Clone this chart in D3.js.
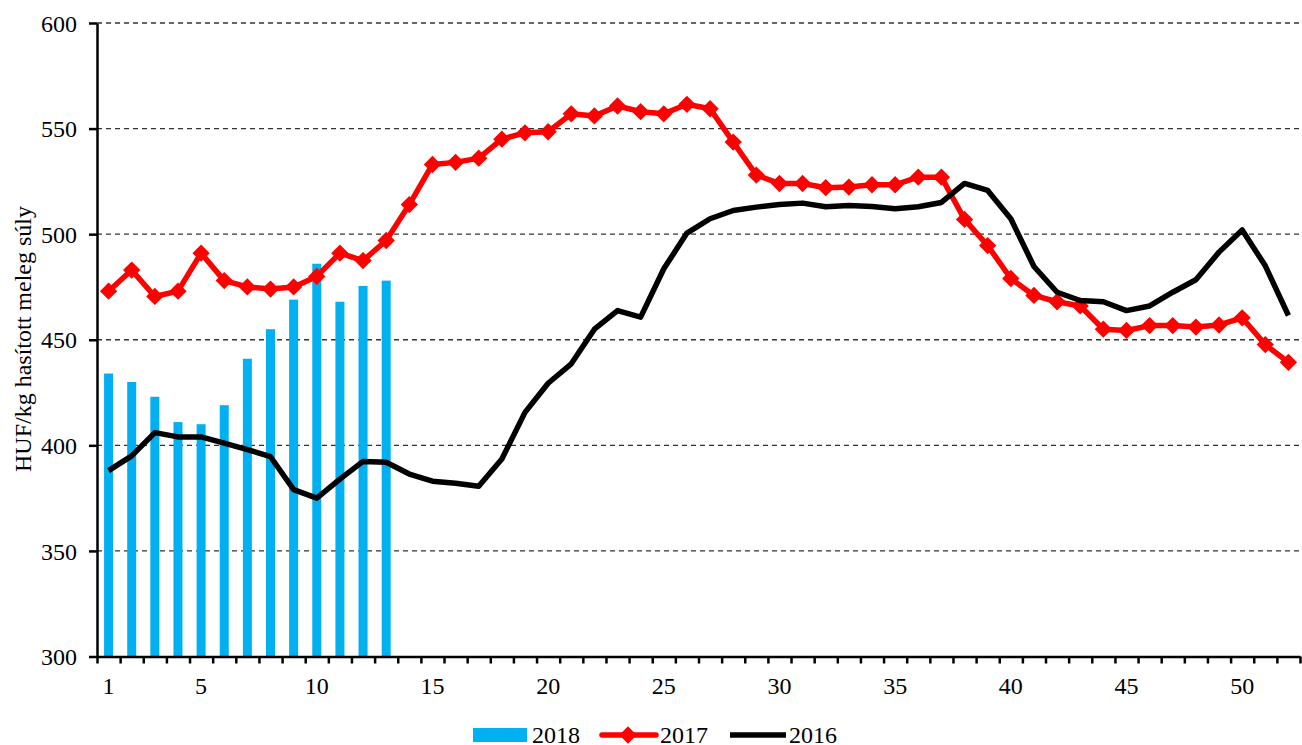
<!DOCTYPE html>
<html>
<head>
<meta charset="utf-8">
<script src="https://cdn.jsdelivr.net/npm/d3@7"></script>
<style>
  body { margin: 0; background: #fff; }
  svg { display: block; }
  svg text { font-family: "Liberation Serif", "Times New Roman", serif; fill: #000; }
</style>
</head>
<body>
<svg id="chart" width="1302" height="745"></svg>
<script>
// weeks 1..52
const weeks = d3.range(1, 53);

// 2018 (bars, weeks 1-13)
const values2018 = [434, 430, 423, 411, 410, 419, 441, 455, 469, 486, 468, 475.5, 478];

// 2017 (red line with diamonds)
const values2017 = [
  473, 483, 470.5, 473, 491, 478, 475, 474, 475, 480,
  491, 487.5, 497, 514, 533, 534, 536, 545, 548, 548.5,
  557, 556, 560.7, 558, 557, 561.5, 559.4, 543.6, 528, 524,
  524, 522, 522.3, 523.4, 523.4, 527, 527, 507, 494.6, 479,
  471, 468, 466, 455, 454.4, 456.7, 456.7, 456, 457, 460.4,
  447.7, 439.3
];

// 2016 (black line)
const values2016 = [
  388, 395, 406, 404, 404, 401, 398, 394.6, 379, 375,
  384, 392.4, 392, 386.4, 383, 382, 380.6, 393.5, 415.6, 429.4,
  438.6, 455, 463.8, 460.7, 483.6, 500.5, 507.3, 511.2, 512.8, 514,
  514.7, 513, 513.6, 513.1, 512, 513, 515, 524, 520.7, 507.3,
  484.7, 472.5, 468.6, 468, 463.8, 466, 472.5, 478.4, 491.5, 502,
  485, 461.5
];

const xTickLabels = [1, 5, 10, 15, 20, 25, 30, 35, 40, 45, 50];
const yTicks = [300, 350, 400, 450, 500, 550, 600];

const margin = { top: 23, right: 2, bottom: 88.5, left: 97 };
const width = 1302, height = 745;
const innerWidth = width - margin.left - margin.right;
const innerHeight = height - margin.top - margin.bottom;
const fontSize = 24;

const svg = d3.select("#chart");
const g = svg.append("g").attr("transform", `translate(${margin.left},${margin.top})`);

const x = d3.scaleBand().domain(weeks).range([0, innerWidth]).padding(0);
const xEdge = d3.scaleLinear().domain([0, 52]).range([0, innerWidth]);
const y = d3.scaleLinear().domain([300, 600]).range([innerHeight, 0]);
const cx = d => x(d) + x.bandwidth() / 2;

// gridlines
g.append("g")
  .selectAll("line")
  .data(yTicks.filter(t => t > 300))
  .join("line")
  .attr("x1", 0)
  .attr("x2", innerWidth)
  .attr("y1", d => y(d))
  .attr("y2", d => y(d))
  .attr("stroke", "#333")
  .attr("stroke-width", 1.3)
  .attr("stroke-dasharray", "5,4");

// bars 2018
const barW = 9;
g.append("g")
  .selectAll("rect")
  .data(values2018)
  .join("rect")
  .attr("x", (d, i) => cx(weeks[i]) - barW / 2)
  .attr("y", d => y(d))
  .attr("width", barW)
  .attr("height", d => innerHeight - y(d))
  .attr("fill", "#00b0f0");

// 2017 line
const line = d3.line().x((d, i) => cx(weeks[i])).y(d => y(d));
g.append("path")
  .datum(values2017)
  .attr("fill", "none")
  .attr("stroke", "#ff0000")
  .attr("stroke-width", 5.5)
  .attr("stroke-linejoin", "round")
  .attr("d", line);

const diamond = d3.symbol().type(d3.symbolSquare).size(150);
g.append("g")
  .selectAll("path")
  .data(values2017)
  .join("path")
  .attr("transform", (d, i) => `translate(${cx(weeks[i])},${y(d)}) rotate(45)`)
  .attr("d", diamond)
  .attr("fill", "#ff0000");

// 2016 line
g.append("path")
  .datum(values2016)
  .attr("fill", "none")
  .attr("stroke", "#000")
  .attr("stroke-width", 5.5)
  .attr("stroke-linejoin", "round")
  .attr("d", line);

// y axis
const yAxis = g.append("g")
  .call(d3.axisLeft(y).tickValues(yTicks).tickSize(8).tickSizeOuter(0).tickPadding(12));
yAxis.attr("font-family", null).attr("font-size", null);
yAxis.select(".domain").attr("stroke", "#000").attr("stroke-width", 2.5);
yAxis.selectAll(".tick line").attr("stroke", "#000").attr("stroke-width", 2.5);
yAxis.selectAll("text").style("font-size", fontSize + "px").attr("dy", "0.34em");

// x axis: tick marks between categories
const xAxisTicks = g.append("g")
  .attr("transform", `translate(0,${innerHeight})`)
  .call(d3.axisBottom(xEdge).tickValues(d3.range(0, 53)).tickSize(7).tickSizeOuter(0).tickFormat(""));
xAxisTicks.selectAll("text").remove();
xAxisTicks.select(".domain").attr("stroke", "#000").attr("stroke-width", 2.5);
xAxisTicks.selectAll(".tick line").attr("stroke", "#000").attr("stroke-width", 2.5);

// x axis labels
const xAxisLabels = g.append("g")
  .attr("transform", `translate(0,${innerHeight})`)
  .call(d3.axisBottom(x).tickValues(xTickLabels).tickSize(0).tickPadding(20));
xAxisLabels.attr("font-family", null).attr("font-size", null);
xAxisLabels.select(".domain").remove();
xAxisLabels.selectAll("text").style("font-size", fontSize + "px");

// y axis title
svg.append("text")
  .attr("transform", `translate(31,${339}) rotate(-90)`)
  .attr("text-anchor", "middle")
  .style("font-size", fontSize + "px")
  .text("HUF/kg hasított meleg súly");

// legend
const legend = svg.append("g").attr("transform", "translate(0,735)");
legend.append("rect")
  .attr("x", 473).attr("y", -7).attr("width", 54).attr("height", 14)
  .attr("fill", "#00b0f0");
legend.append("text").attr("x", 532).attr("y", 7.5).style("font-size", fontSize + "px").text("2018");

legend.append("line")
  .attr("x1", 602).attr("x2", 656).attr("y1", 0).attr("y2", 0)
  .attr("stroke", "#ff0000").attr("stroke-width", 5.5).attr("stroke-linecap", "round");
legend.append("path")
  .attr("transform", "translate(628,0) rotate(45)")
  .attr("d", diamond)
  .attr("fill", "#ff0000");
legend.append("text").attr("x", 660).attr("y", 7.5).style("font-size", fontSize + "px").text("2017");

legend.append("line")
  .attr("x1", 730).attr("x2", 786).attr("y1", 0).attr("y2", 0)
  .attr("stroke", "#000").attr("stroke-width", 5.5);
legend.append("text").attr("x", 789).attr("y", 7.5).style("font-size", fontSize + "px").text("2016");
</script>
</body>
</html>
